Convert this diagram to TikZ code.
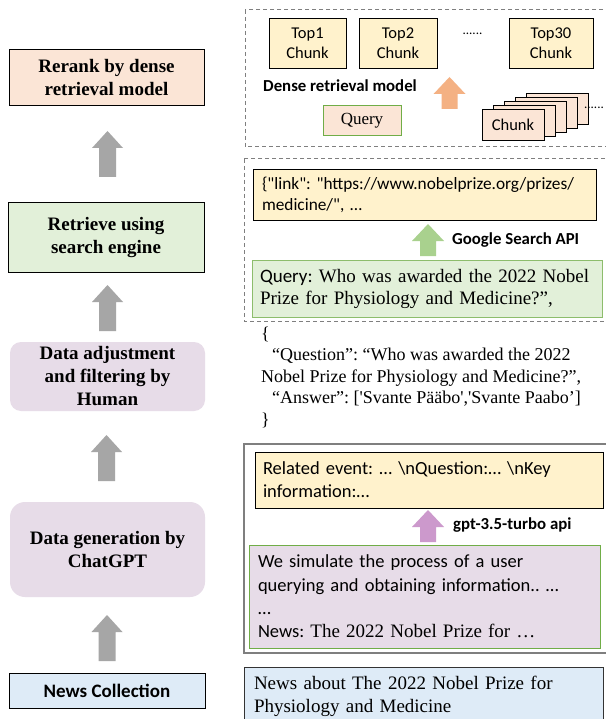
\documentclass[tikz,border=0pt]{standalone}
\usepackage{fontspec}
\setmainfont{Liberation Serif}
\newfontfamily\calf{Carlito}
\definecolor{peach}{HTML}{FBE5D6}
\definecolor{lgreen}{HTML}{E2F0D9}
\definecolor{lav}{HTML}{E7DCE8}
\definecolor{lblue}{HTML}{DEEBF7}
\definecolor{lyellow}{HTML}{FFF2CC}
\definecolor{agray}{HTML}{A6A6A6}
\definecolor{aorange}{HTML}{F4B183}
\definecolor{agreen}{HTML}{A9D18E}
\definecolor{apurple}{HTML}{CC99CC}
\definecolor{bgreen}{HTML}{70AD47}
\definecolor{dgray}{HTML}{7F7F7F}
\frenchspacing
\begin{document}
\begin{tikzpicture}[x=1pt,y=-1pt,
  leftbox/.style={draw=black, line width=1pt, inner sep=0pt, align=center,
    font=\fontsize{19}{23}\selectfont\bfseries},
  lavbox/.style={fill=lav, inner sep=0pt, align=center,
    font=\fontsize{19}{23}\selectfont\bfseries},
  textbox/.style={inner sep=0pt, align=left},
  smallbox/.style={draw=black, line width=0.8pt, inner sep=0pt, align=center,
    font=\calf\fontsize{16.5}{20}\selectfont},
  dashbox/.style={draw=dgray, line width=1pt, dash pattern=on 4pt off 3pt},
  bigarrow/.pic={\fill[pic actions] (0,0) -- (15.5,17) -- (8.5,17) -- (8.5,46) -- (-8.5,46) -- (-8.5,17) -- (-15.5,17) -- cycle;},
  smallarrow/.pic={\fill[pic actions] (0,0) -- (16,17) -- (8,17) -- (8,32) -- (-8,32) -- (-8,17) -- (-16,17) -- cycle;},
  lbl/.style={inner sep=0pt, anchor=west, font=\calf\bfseries\fontsize{16.8}{20}\selectfont},
  dots/.style={inner sep=0pt, anchor=base, font=\calf\fontsize{13}{15}\selectfont}
]
\useasboundingbox[fill=white] (0,0) rectangle (605,719);

% ---------------- left column ----------------
\node[leftbox, fill=peach, minimum width=195pt, minimum height=56pt] (rerank) at (106.5,78) {Rerank by dense\\retrieval model};
\node[leftbox, fill=lgreen, minimum width=196pt, minimum height=69pt] (retrieve) at (106,237.5) {Retrieve using\\search engine};
\node[lavbox, rounded corners=11pt, minimum width=195pt, minimum height=69pt] (adjust) at (107.5,376.5) {Data adjustment\\and filtering by\\Human};
\node[lavbox, rounded corners=15pt, minimum width=195pt, minimum height=95pt] (gen) at (107.5,549.5) {Data generation by\\ChatGPT};
\node[draw=black, line width=1pt, fill=lblue, inner sep=0pt, minimum width=196pt, minimum height=35pt,
  font=\calf\bfseries\fontsize{19}{23}\selectfont] (news) at (107,690.5) {News Collection};

\pic[fill=agray] at (107.5,131) {bigarrow};
\pic[fill=agray] at (107.5,285) {bigarrow};
\pic[fill=agray] at (106.5,435) {bigarrow};
\pic[fill=agray] at (107,615) {bigarrow};

% ---------------- top right panel ----------------
\draw[dashbox] (245,10) rectangle (630,147);
\node[smallbox, fill=lyellow, minimum width=77pt, minimum height=50pt] (top1) at (307.5,43) {Top1\\Chunk};
\node[smallbox, fill=lyellow, minimum width=78pt, minimum height=50pt] (top2) at (398,43) {Top2\\Chunk};
\node[dots] (dotsA) at (472.5,35) {......};
\node[smallbox, fill=lyellow, minimum width=84pt, minimum height=50pt] (top30) at (551,43) {Top30\\Chunk};
\node[lbl] (dense) at (263,86) {Dense retrieval model};
\pic[fill=aorange] at (449.5,77) {smallarrow};
\node[draw=bgreen, line width=1pt, fill=peach, inner sep=0pt, minimum width=78pt, minimum height=30pt,
  font=\fontsize{17}{20}\selectfont] (query) at (362,121) {Query};
\foreach \i in {4,3,2,1} {
  \node[smallbox, fill=peach, minimum width=62pt, minimum height=31pt] (chunk\i) at (513+11*\i,124.5-4*\i) {};
}
\node[smallbox, fill=peach, minimum width=62pt, minimum height=31pt] (chunk0) at (513,124.5) {Chunk};
\node[dots] (dotsB) at (594,109) {......};

% ---------------- search panel ----------------
\draw[dashbox] (244,159) rectangle (630,321);
\node[draw=black, line width=0.9pt, fill=lyellow, textbox, minimum width=343pt, minimum height=51pt,
  text width=325pt, inner xsep=9pt, font=\calf\fontsize{17.3}{21}\selectfont] (link) at (424.5,195)
  {\{\textquotedbl link\textquotedbl: \textquotedbl https://www.nobelprize.org/prizes/\\medicine/\textquotedbl, …};
\pic[fill=agreen] at (428,224) {smallarrow};
\node[lbl] (gsapi) at (452,240) {Google Search API};
\node[draw=bgreen!80, line width=1pt, fill=lgreen, textbox, minimum width=350pt, minimum height=57pt,
  text width=334pt, inner xsep=8pt, font=\fontsize{19}{22}\selectfont] (qtext) at (427,288.5)
  {{\calf Query:} Who was awarded the 2022 Nobel\\Prize for Physiology and Medicine?”,};

% ---------------- JSON ----------------
\node[textbox, anchor=west, font=\fontsize{18}{21.5}\selectfont] (json) at (261,377)
  {\{\\
   \hspace*{11pt}“Question”: “Who was awarded the 2022\\
   Nobel Prize for Physiology and Medicine?”,\\
   \hspace*{11pt}“Answer”: [\textquotesingle Svante Pääbo\textquotesingle,\textquotesingle Svante Paabo’]\\
   \}};

% ---------------- generation panel ----------------
\draw[draw=dgray, line width=1.2pt] (244,444) rectangle (630,653);
\node[draw=black, line width=0.9pt, fill=lyellow, textbox, minimum width=348pt, minimum height=56pt,
  text width=332pt, inner xsep=8pt, font=\calf\fontsize{18.5}{23}\selectfont] (related) at (429,480)
  {Related event: … \textbackslash nQuestion:… \textbackslash nKey\\information:…};
\pic[fill=apurple] at (428,510) {smallarrow};
\node[lbl] (gptapi) at (453,525) {gpt-3.5-turbo api};
\node[draw=bgreen, line width=1pt, fill=lav, textbox, minimum width=351pt, minimum height=103pt,
  text width=333pt, inner xsep=9pt, font=\calf\fontsize{18.5}{23.3}\selectfont] (simulate) at (424.5,596.5)
  {We simulate the process of a user\\querying and obtaining information.. …\\…\\News: {\rmfamily\fontsize{19}{23.3}\selectfont The 2022 Nobel Prize for …}};

% ---------------- news ----------------
\node[draw=black!80, line width=1pt, fill=lblue, textbox, minimum width=359pt, minimum height=59pt,
  text width=339pt, inner xsep=10pt, font=\fontsize{19}{23}\selectfont] (newsbox) at (423.5,696.5)
  {News about The 2022 Nobel Prize for\\Physiology and Medicine};
\end{tikzpicture}
\end{document}
